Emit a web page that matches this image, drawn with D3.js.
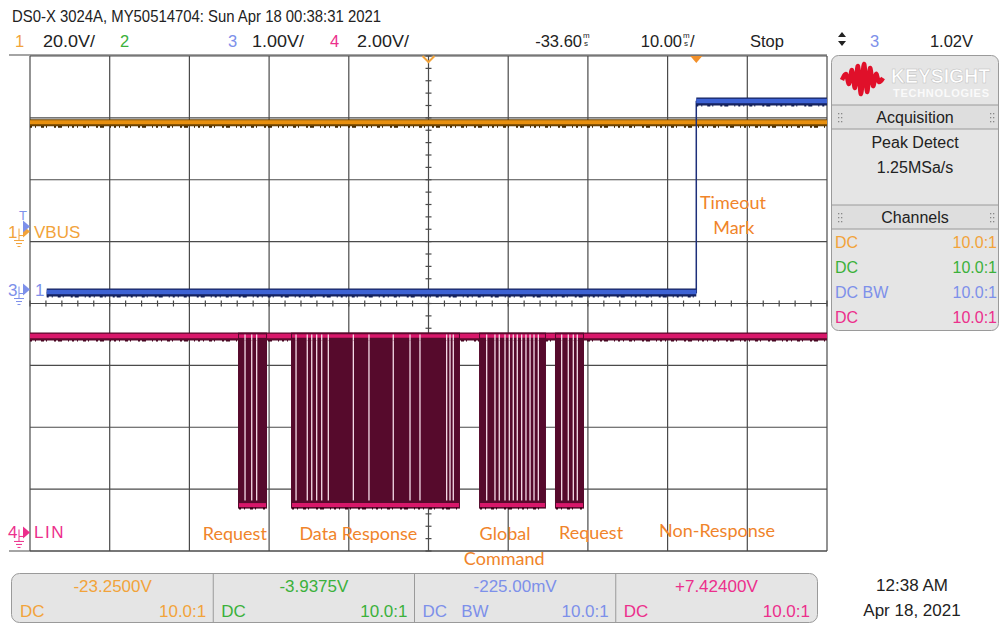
<!DOCTYPE html>
<html>
<head>
<meta charset="utf-8">
<script src="https://cdn.jsdelivr.net/npm/d3@7/dist/d3.min.js"></script>
<style>
  html, body { margin: 0; padding: 0; background: #fff; }
  svg { display: block; }
  .ui { font-family: "Liberation Sans Narrow", "Liberation Sans", Arial, sans-serif; }
  .panel { font-family: "Liberation Sans", Arial, sans-serif; }
  .note { font-family: Lato, "Open Sans", sans-serif; fill: #f0842a; font-size: 18px; }
</style>
</head>
<body>
<div id="chart"></div>
<script>
// ---- scope settings ----
const chLabels = ['1', '2', '3', '4'];
const chVoltsPerDiv = [20.0, null, 1.00, 2.00];
const chScaleText = ['20.0V/', '', '1.00V/', '2.00V/'];
const chGroundDiv = [1.163, null, 0.226, -3.70];   // ground marker, divisions above centre
const timePerDiv = 10.0;      // ms/div
const delay = -33.60;         // ms, time at screen centre
const trigLevel = 1.02;       // V on channel 3

// ---- traces ----
const vbusLevel = 35.2;                              // ch1, V
const ch3Times = [-81.5, 0, 16.4];                   // ms
const ch3Volts = [-0.05, 3.04, 3.04];                // V, step held until next time
const linHigh = 6.33;                                // ch4, V
const linLow = 0.90;
const linBursts = [[-57.50, -53.86], [-50.85, -29.65], [-27.26, -18.86], [-17.73, -14.09]];
const linGaps = [-56.62, -55.78, -55.16,
  -50.22, -48.81, -48.25, -47.63, -47.00, -46.17, -43.03, -41.07, -38.02, -35.92, -34.67, -31.32, -30.90, -30.49,
  -26.30, -25.26, -24.72, -24.00, -23.46, -22.96, -22.46, -21.91, -21.37, -20.86, -20.36, -19.82,
  -16.89, -16.06, -15.43, -14.93];

// ---- annotations ----
const noteText = ['Request', 'Data Response', 'Global', 'Command', 'Request', 'Non-Response', 'Timeout', 'Mark'];
const noteTime = [-57.9, -42.4, -24.0, -24.1, -13.2, 2.6, 4.6, 4.7];

// ---- measurement bar / side panel ----
const measValues = ['-23.2500V', '-3.9375V', '-225.00mV', '+7.42400V'];
const measCoupling = ['DC', 'DC', 'DC   BW', 'DC'];
const probeRatio = ['10.0:1', '10.0:1', '10.0:1', '10.0:1'];
const panelCoupling = ['DC', 'DC', 'DC BW', 'DC'];

const chColor = ['#f2a33a', '#3bb13b', '#7d90ea', '#ec2f8c'];

const W = 1000, H = 626;
const svg = d3.select('#chart').append('svg').attr('width', W).attr('height', H);

const gLeft = 30, gRight = 827, gTop = 56, gBottom = 551;
const x = d3.scaleLinear().domain([delay - 5 * timePerDiv, delay + 5 * timePerDiv]).range([gLeft, gRight]);
const xDiv = d3.scaleLinear().domain([-5, 5]).range([gLeft, gRight]);
const yDiv = d3.scaleLinear().domain([-4, 4]).range([gBottom, gTop]);
const yCh = (i, v) => yDiv(chGroundDiv[i] + v / chVoltsPerDiv[i]);

// ---- header ----
const hdr = svg.append('g').attr('class', 'ui').style('font-size', '16.5px').attr('fill', '#222');
hdr.append('text').attr('x', 12).attr('y', 22).attr('textLength', 369).attr('lengthAdjust', 'spacingAndGlyphs')
  .text('DS0-X 3024A, MY50514704: Sun Apr 18 00:38:31 2021');
const numX = [15, 120, 228, 330];
const scaleX = [43, 0, 252, 357];
chLabels.forEach((c, i) => {
  hdr.append('text').attr('x', numX[i]).attr('y', 47).attr('fill', chColor[i]).text(c);
  if (chScaleText[i]) hdr.append('text').attr('x', scaleX[i]).attr('y', 47).attr('textLength', 52)
    .attr('lengthAdjust', 'spacingAndGlyphs').text(chScaleText[i]);
});
function msUnit(g, xx) {
  g.append('text').attr('x', xx).attr('y', 38).style('font-size', '8px').text('m');
  g.append('text').attr('x', xx + 1).attr('y', 46).style('font-size', '8px').text('s');
}
hdr.append('text').attr('x', 582).attr('y', 47).attr('text-anchor', 'end').text(delay.toFixed(2));
msUnit(hdr, 583);
hdr.append('text').attr('x', 682).attr('y', 47).attr('text-anchor', 'end').text(timePerDiv.toFixed(2));
msUnit(hdr, 683);
hdr.append('text').attr('x', 690).attr('y', 47).text('/');
hdr.append('text').attr('x', 750).attr('y', 47).text('Stop');
hdr.append('path').attr('d', 'M838,37L842,32L846,37ZM838,41L842,46L846,41Z').attr('fill', '#222');
hdr.append('text').attr('x', 870).attr('y', 47).attr('fill', chColor[2]).text(chLabels[2]);
hdr.append('text').attr('x', 973).attr('y', 47).attr('text-anchor', 'end').text(trigLevel.toFixed(2) + 'V');

// ---- graticule ----
const grid = svg.append('g').attr('stroke', '#4a4a4a').attr('stroke-width', 1.2);
d3.range(-5, 6).forEach(d => {
  grid.append('line').attr('x1', xDiv(d)).attr('x2', xDiv(d)).attr('y1', gTop).attr('y2', gBottom);
});
d3.range(-4, 5).forEach(d => {
  grid.append('line').attr('x1', gLeft).attr('x2', gRight).attr('y1', yDiv(d)).attr('y2', yDiv(d));
});
grid.append('line').attr('x1', 9).attr('x2', gRight).attr('y1', gTop - 1).attr('y2', gTop - 1);
grid.append('line').attr('x1', 9).attr('x2', gRight).attr('y1', gBottom).attr('y2', gBottom);
// minor ticks on centre axes
d3.range(-4, 4.01, 0.2).forEach(d => {
  grid.append('line').attr('x1', xDiv(0) - 3).attr('x2', xDiv(0) + 3).attr('y1', yDiv(d)).attr('y2', yDiv(d));
});
d3.range(-5, 5.01, 0.2).forEach(d => {
  grid.append('line').attr('x1', xDiv(d)).attr('x2', xDiv(d)).attr('y1', yDiv(0) - 3).attr('y2', yDiv(0) + 3);
});

// ---- ch1 VBUS ----
const tr = svg.append('g');
const noiseDash = '2 3 1 5 3 2 1 7 2 2 4 6 1 3';
tr.append('line').attr('x1', x.range()[0]).attr('x2', x.range()[1])
  .attr('y1', yCh(0, vbusLevel) + 3).attr('y2', yCh(0, vbusLevel) + 3)
  .attr('stroke', '#3a2300').attr('stroke-width', 4).attr('stroke-dasharray', noiseDash);
tr.append('line').attr('x1', x.range()[0]).attr('x2', x.range()[1])
  .attr('y1', yCh(0, vbusLevel)).attr('y2', yCh(0, vbusLevel))
  .attr('stroke', '#6b4200').attr('stroke-width', 7);
tr.append('line').attr('x1', x.range()[0]).attr('x2', x.range()[1])
  .attr('y1', yCh(0, vbusLevel) - 0.5).attr('y2', yCh(0, vbusLevel) - 0.5)
  .attr('stroke', '#e8900f').attr('stroke-width', 4);

// ---- ch3 ----
const ch3Pts = ch3Times.map((t, i) => [t, ch3Volts[i]]);
const step = d3.line().x(d => x(d[0])).y(d => yCh(2, d[1])).curve(d3.curveStepAfter);
tr.append('path').attr('d', step(ch3Pts)).attr('fill', 'none').attr('stroke', '#1d2f7a').attr('stroke-width', 1.5);
const ch3Segs = ch3Pts.slice(0, -1).map((d, i) => [d[0], ch3Pts[i + 1][0], d[1]]);
ch3Segs.forEach(s => {
  const yy = yCh(2, s[2]);
  tr.append('line').attr('x1', x(s[0])).attr('x2', x(s[1])).attr('y1', yy + 3).attr('y2', yy + 3)
    .attr('stroke', '#111d55').attr('stroke-width', 4).attr('stroke-dasharray', noiseDash);
  tr.append('line').attr('x1', x(s[0])).attr('x2', x(s[1])).attr('y1', yy).attr('y2', yy)
    .attr('stroke', '#15225f').attr('stroke-width', 8);
  tr.append('line').attr('x1', x(s[0])).attr('x2', x(s[1])).attr('y1', yy - 0.5).attr('y2', yy - 0.5)
    .attr('stroke', '#3d62d4').attr('stroke-width', 4.5);
});

// ---- ch4 LIN ----
const yHi = yCh(3, linHigh), yLo = yCh(3, linLow);
tr.append('line').attr('x1', x.range()[0]).attr('x2', x.range()[1]).attr('y1', yHi + 3).attr('y2', yHi + 3)
  .attr('stroke', '#3a0018').attr('stroke-width', 4).attr('stroke-dasharray', noiseDash);
tr.append('line').attr('x1', x.range()[0]).attr('x2', x.range()[1]).attr('y1', yHi).attr('y2', yHi)
  .attr('stroke', '#5a0a2c').attr('stroke-width', 8);
tr.append('line').attr('x1', x.range()[0]).attr('x2', x.range()[1]).attr('y1', yHi - 0.5).attr('y2', yHi - 0.5)
  .attr('stroke', '#d8176a').attr('stroke-width', 4.5);
const bursts = tr.append('g');
bursts.selectAll('rect.b').data(linBursts).join('rect').attr('class', 'b')
  .attr('x', d => x(d[0])).attr('width', d => x(d[1]) - x(d[0]))
  .attr('y', yHi - 4).attr('height', yLo - yHi + 8).attr('fill', '#560a2c');
bursts.selectAll('line.g').data(linGaps).join('line').attr('class', 'g')
  .attr('x1', d => x(d)).attr('x2', d => x(d)).attr('y1', yHi + 4).attr('y2', yLo - 4)
  .attr('stroke', '#f6dce8').attr('stroke-width', 1.3);
bursts.selectAll('line.lo').data(linBursts).join('line').attr('class', 'lo')
  .attr('x1', d => x(d[0]) + 1).attr('x2', d => x(d[1]) - 1).attr('y1', yLo + 0.5).attr('y2', yLo + 0.5)
  .attr('stroke', '#d8176a').attr('stroke-width', 4);
bursts.selectAll('line.lo2').data(linBursts).join('line').attr('class', 'lo2')
  .attr('x1', d => x(d[0]) + 1).attr('x2', d => x(d[1]) - 1).attr('y1', yLo + 4).attr('y2', yLo + 4)
  .attr('stroke', '#3a0018').attr('stroke-width', 2).attr('stroke-dasharray', noiseDash);
bursts.selectAll('line.hi').data(linBursts).join('line').attr('class', 'hi')
  .attr('x1', d => x(d[0]) + 1).attr('x2', d => x(d[1]) - 1).attr('y1', yHi - 0.5).attr('y2', yHi - 0.5)
  .attr('stroke', '#d8176a').attr('stroke-width', 3.5);
bursts.selectAll('line.g2').data(linGaps).join('line').attr('class', 'g2')
  .attr('x1', d => x(d)).attr('x2', d => x(d)).attr('y1', yHi - 2).attr('y2', yHi + 4)
  .attr('stroke', '#f6dce8').attr('stroke-width', 1.3);

// ---- trigger / delay markers ----
const xt = x(0);
svg.append('path').attr('d', `M${xt - 6},${gTop}L${xt + 6},${gTop}L${xt},${gTop + 7}Z`).attr('fill', '#f2902a');
const xd = x(delay);
svg.append('path').attr('d', `M${xd - 6},${gTop}L${xd},${gTop + 6}L${xd + 6},${gTop}`)
  .attr('fill', 'none').attr('stroke', '#f2a33a').attr('stroke-width', 2);

// ---- channel ground markers ----
function ground(g, xx, yy, col) {
  g.append('path').attr('d', `M${xx},${yy - 3}V${yy + 4}H${xx + 6}M${xx},${yy + 4}V${yy + 9}M${xx - 5},${yy + 9}H${xx + 5}M${xx - 3},${yy + 12}H${xx + 3}M${xx - 1.5},${yy + 15}H${xx + 1.5}`)
    .attr('fill', 'none').attr('stroke', col).attr('stroke-width', 1);
}
const mk = svg.append('g').attr('class', 'ui').style('font-size', '17px');
[0, 2, 3].forEach(i => {
  const yy = yDiv(chGroundDiv[i]);
  mk.append('text').attr('x', 8).attr('y', yy + 6).attr('fill', chColor[i]).text(chLabels[i]);
  ground(mk, 19, yy, chColor[i]);
  mk.append('path').attr('d', `M23,${yy - 6}L30,${yy}L23,${yy + 6}Z`).attr('fill', chColor[i]);
});
// trigger level arrow
const ytr = yCh(2, trigLevel);
mk.append('path').attr('d', `M23,${ytr - 6}L30,${ytr}L23,${ytr + 6}Z`).attr('fill', chColor[2]);
mk.append('text').attr('x', 19).attr('y', ytr - 6).attr('fill', chColor[2]).style('font-size', '13px').text('T');
mk.append('text').attr('x', 34).attr('y', yDiv(chGroundDiv[0]) + 6).attr('fill', chColor[0]).style('font-size', '17px').text('VBUS');
mk.append('text').attr('x', 34).attr('y', yDiv(chGroundDiv[3]) + 6).attr('fill', chColor[3]).style('font-size', '17px').attr('letter-spacing', 1.5).text('LIN');
mk.append('text').attr('x', 35).attr('y', yDiv(chGroundDiv[2]) + 6).attr('fill', chColor[2]).style('font-size', '17px').text('1');

// ---- annotations ----
const noteY = [540, 540, 540, 565, 539, 537, 209, 234];
const notes = svg.append('g').attr('class', 'note').attr('text-anchor', 'middle');
noteText.forEach((t, i) => {
  notes.append('text').attr('x', x(noteTime[i])).attr('y', noteY[i]).text(t);
});

// ---- side panel ----
const pn = svg.append('g').attr('class', 'panel');
pn.append('rect').attr('x', 831.5).attr('y', 55.5).attr('width', 167).attr('height', 275).attr('rx', 7)
  .attr('fill', '#e5e5e5').attr('stroke', '#9a9a9a');
const logo = [[842, 80], [846, 74], [849, 84], [852, 70], [855, 88], [858, 66], [861, 94], [864, 64], [867, 92],
  [870, 68], [873, 86], [876, 74], [879, 82], [883, 78]];
pn.append('path').attr('d', d3.line().curve(d3.curveCardinal)(logo)).attr('fill', 'none')
  .attr('stroke', '#e0102a').attr('stroke-width', 4.5).attr('stroke-linejoin', 'round');
pn.append('text').attr('x', 891).attr('y', 83).attr('fill', '#fff').attr('stroke', '#bdbdbd').attr('stroke-width', 0.5)
  .style('font-size', '21px').attr('font-weight', 'bold').attr('textLength', 99).attr('lengthAdjust', 'spacingAndGlyphs').text('KEYSIGHT');
pn.append('text').attr('x', 893).attr('y', 97).attr('fill', '#fafafa')
  .style('font-size', '11px').attr('font-weight', 'bold').attr('textLength', 96).text('TECHNOLOGIES');
[[105, 129], [205, 229]].forEach(r => {
  pn.append('rect').attr('x', 832).attr('y', r[0]).attr('width', 166).attr('height', r[1] - r[0]).attr('fill', '#dedede');
  pn.append('line').attr('x1', 832).attr('x2', 998).attr('y1', r[0]).attr('y2', r[0]).attr('stroke', '#9a9a9a');
  pn.append('line').attr('x1', 832).attr('x2', 998).attr('y1', r[1]).attr('y2', r[1]).attr('stroke', '#9a9a9a');
  [838, 990].forEach(dx => {
    [0, 4, 8].forEach(dy => {
      [0, 3].forEach(ddx => pn.append('rect').attr('x', dx + ddx).attr('y', r[0] + 8 + dy).attr('width', 1.3).attr('height', 1.3).attr('fill', '#888'));
    });
  });
});
const pt = pn.append('g').attr('text-anchor', 'middle').attr('fill', '#222').style('font-size', '16px');
pt.append('text').attr('x', 915).attr('y', 123).text('Acquisition');
pt.append('text').attr('x', 915).attr('y', 148).text('Peak Detect');
pt.append('text').attr('x', 915).attr('y', 173).text('1.25MSa/s');
pt.append('text').attr('x', 915).attr('y', 223).text('Channels');
panelCoupling.forEach((c, i) => {
  pn.append('text').attr('x', 835).attr('y', 248 + i * 25).attr('fill', chColor[i]).style('font-size', '16px').text(c);
  pn.append('text').attr('x', 997).attr('y', 248 + i * 25).attr('fill', chColor[i]).attr('text-anchor', 'end').style('font-size', '16px').text(probeRatio[i]);
});

// ---- measurement bar ----
const mb = svg.append('g').attr('class', 'ui').style('font-size', '17px');
mb.append('rect').attr('x', 11.5).attr('y', 573.5).attr('width', 806).attr('height', 49).attr('rx', 8)
  .attr('fill', '#e5e5e5').attr('stroke', '#9a9a9a');
const cellX = d3.scaleLinear().domain([0, 4]).range([12, 817]);
measValues.forEach((v, i) => {
  const x0 = cellX(i), x1 = cellX(i + 1);
  if (i > 0) mb.append('line').attr('x1', x0).attr('x2', x0).attr('y1', 574).attr('y2', 622).attr('stroke', '#9a9a9a');
  mb.append('text').attr('x', (x0 + x1) / 2).attr('y', 592).attr('text-anchor', 'middle').attr('fill', chColor[i]).text(v);
  mb.append('text').attr('x', x0 + 8).attr('y', 617).attr('fill', chColor[i]).attr('xml:space', 'preserve').style('white-space', 'pre').text(measCoupling[i]);
  mb.append('text').attr('x', x1 - 7).attr('y', 617).attr('text-anchor', 'end').attr('fill', chColor[i]).text(probeRatio[i]);
});
mb.append('text').attr('x', 912).attr('y', 591).attr('text-anchor', 'middle').attr('fill', '#222').text('12:38 AM');
mb.append('text').attr('x', 912).attr('y', 616).attr('text-anchor', 'middle').attr('fill', '#222').text('Apr 18, 2021');
</script>
</body>
</html>
